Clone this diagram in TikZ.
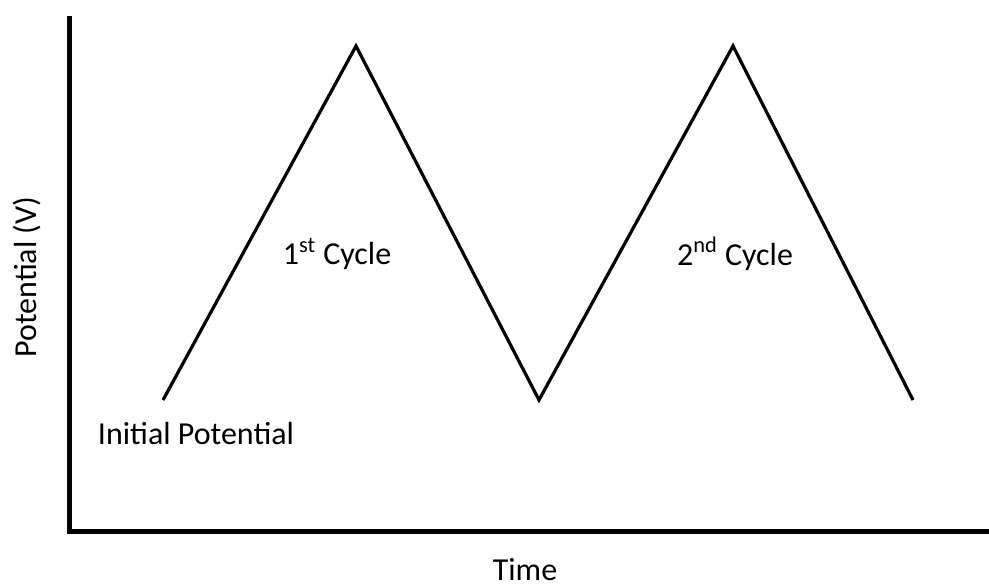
\documentclass[tikz,border=0pt]{standalone}
\usepackage{fontspec}
\setmainfont{Carlito}
\usepackage{tikz}
\usetikzlibrary{positioning, calc}

\begin{document}
\begin{tikzpicture}[
    x=0.5pt, y=-0.5pt,
    axis/.style={line width=2.5pt, black},
    wave/.style={line width=1.6pt, black, line join=miter},
    lbl/.style={font=\fontsize{16}{19}\selectfont, inner sep=0pt}
  ]
    \useasboundingbox (0,0) rectangle (989,585);

    % axes
    \coordinate (top) at (69.5,16);
    \coordinate (origin) at (69.5,531);
    \coordinate (right) at (989,531);
    \draw[axis] (top) -- (origin) -- (right);

    % triangle wave
    \coordinate (start) at (163,400);
    \coordinate (peak1) at (356,46);
    \coordinate (valley) at (539,400);
    \coordinate (peak2) at (733,46);
    \coordinate (finish) at (913,400);
    \draw[wave] (start) -- (peak1) -- (valley) -- (peak2) -- (finish);

    % labels
    \node[lbl] (cyc1) at (337,254) {1\textsuperscript{st} Cycle};
    \node[lbl] (cyc2) at (735,254) {2\textsuperscript{nd} Cycle};
    \node[lbl] (init) at (196,433) {Initial Potential};
    \node[lbl, anchor=base] (time) at (525,580) {Time};
    \node[lbl, rotate=90] (pot) at (27,277) {Potential (V)};
  \end{tikzpicture}
\end{document}
